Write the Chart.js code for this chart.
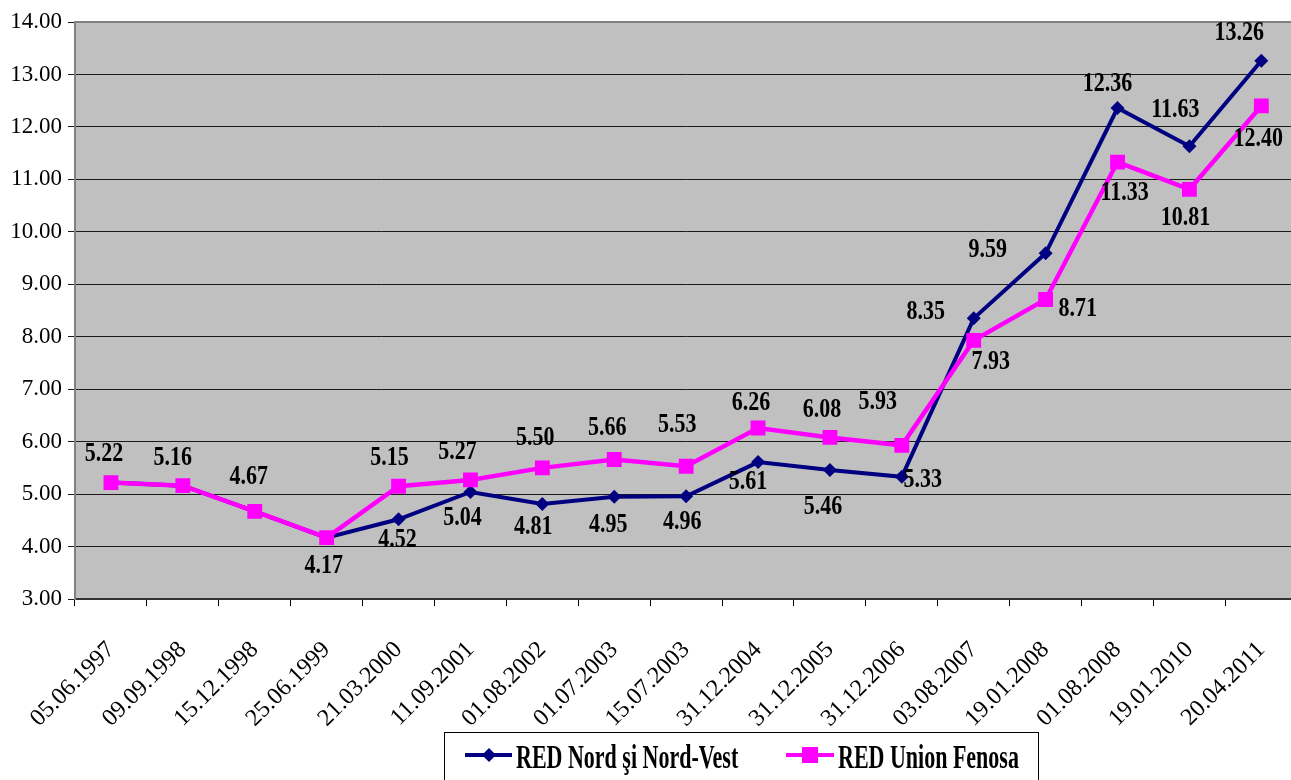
<!DOCTYPE html>
<html>
<head>
<meta charset="utf-8">
<title>RED tariffs</title>
<script src="https://cdn.jsdelivr.net/npm/chart.js@4.4.1/dist/chart.umd.min.js"></script>
<style>
  html, body { margin: 0; padding: 0; background: #fff; overflow: hidden; }
  #wrap { width: 1291px; height: 780px; overflow: hidden; }
</style>
</head>
<body>
<div id="wrap"><canvas id="lineChart" width="1312" height="780"></canvas></div>
<script>
// data
const dates = ['05.06.1997', '09.09.1998', '15.12.1998', '25.06.1999', '21.03.2000', '11.09.2001',
  '01.08.2002', '01.07.2003', '15.07.2003', '31.12.2004', '31.12.2005', '31.12.2006',
  '03.08.2007', '19.01.2008', '01.08.2008', '19.01.2010', '20.04.2011'];
const nordValues = [5.22, 5.16, 4.67, 4.17, 4.52, 5.04, 4.81, 4.95, 4.96, 5.61, 5.46, 5.33,
  8.35, 9.59, 12.36, 11.63, 13.26];
const fenosaValues = [5.22, 5.16, 4.67, 4.17, 5.15, 5.27, 5.50, 5.66, 5.53, 6.26, 6.08, 5.93,
  7.93, 8.71, 11.33, 10.81, 12.40];
const yMin = 3;
const yMax = 14;
const yStep = 1;
const seriesNames = ['RED Nord şi Nord-Vest', 'RED Union Fenosa'];

// where each value label sits relative to its point (null = no label)
const nordLabelShift = [[-7, -28], [-10, -28], [-6, -34], [-3, 29], [-1, 21], [-8, 26], [-9, 23],
  [-6, 28], [-4, 26], [-10, 20], [-7, 37], [21, 3], [-48, -6], [-58, -3], [-10, -24], [-14, -36], [-22, -28]];
const fenosaLabelShift = [null, null, null, null, [-9, -28], [-13, -28], [-7, -30], [-7, -31],
  [-9, -41], [-7, -25], [-8, -27], [-24, -43], [17, 22], [32, 10], [7, 31], [-4, 29], [-3, 33]];
const labelShifts = [nordLabelShift, fenosaLabelShift];

const NAVY = '#000080';
const PINK = '#ff00ff';
const SERIF = '"Liberation Serif", "Times New Roman", serif';

const plotFrame = {
  id: 'plotFrame',
  beforeDraw(chart) {
    const { ctx, chartArea: a } = chart;
    ctx.save();
    ctx.fillStyle = '#c0c0c0';
    ctx.fillRect(a.left, a.top, a.right - a.left, a.bottom - a.top);
    ctx.restore();
  },
  beforeDatasetsDraw(chart) {
    const { ctx, chartArea: a } = chart;
    ctx.save();
    ctx.strokeStyle = '#808080';
    ctx.lineWidth = 2;
    ctx.beginPath();
    ctx.moveTo(a.left, a.top);
    ctx.lineTo(a.right, a.top);
    ctx.stroke();
    ctx.restore();
  }
};

const valueLabels = {
  id: 'valueLabels',
  afterDatasetsDraw(chart) {
    const ctx = chart.ctx;
    ctx.save();
    ctx.font = 'bold 22px ' + SERIF;
    ctx.fillStyle = '#000';
    ctx.textAlign = 'center';
    ctx.textBaseline = 'middle';
    chart.data.datasets.forEach((ds, di) => {
      const meta = chart.getDatasetMeta(di);
      meta.data.forEach((pt, i) => {
        const shift = labelShifts[di][i];
        if (!shift) return;
        ctx.save();
        ctx.translate(pt.x + shift[0], pt.y + shift[1]);
        ctx.scale(1, 1.2);
        ctx.fillText(ds.data[i].toFixed(2), 0, 0);
        ctx.restore();
      });
    });
    ctx.restore();
  }
};

const boxLegend = {
  id: 'boxLegend',
  afterDraw(chart) {
    const ctx = chart.ctx;
    ctx.save();
    ctx.strokeStyle = '#000';
    ctx.lineWidth = 1;
    ctx.strokeRect(444.5, 732.5, 594, 80);

    const y = 755;
    // nord sample
    ctx.strokeStyle = NAVY;
    ctx.lineWidth = 4;
    ctx.beginPath(); ctx.moveTo(465, y); ctx.lineTo(512, y); ctx.stroke();
    ctx.fillStyle = NAVY;
    ctx.beginPath();
    ctx.moveTo(489, y - 7); ctx.lineTo(496, y); ctx.lineTo(489, y + 7); ctx.lineTo(482, y);
    ctx.closePath(); ctx.fill();
    // fenosa sample
    ctx.strokeStyle = PINK;
    ctx.beginPath(); ctx.moveTo(786, y); ctx.lineTo(834, y); ctx.stroke();
    ctx.fillStyle = PINK;
    ctx.fillRect(802, y - 8, 16, 16);

    ctx.fillStyle = '#000';
    ctx.font = 'bold 22px ' + SERIF;
    ctx.textBaseline = 'alphabetic';
    ctx.textAlign = 'left';
    [[516, seriesNames[0]], [838, seriesNames[1]]].forEach(([x, txt]) => {
      ctx.save();
      ctx.translate(x, 768);
      ctx.scale(1, 1.5);
      ctx.fillText(txt, 0, 0);
      ctx.restore();
    });
    ctx.restore();
  }
};

const lineCanvas = document.getElementById('lineChart');
if (lineCanvas) {
  const lineCtx = lineCanvas.getContext('2d');
  new Chart(lineCtx, {
    type: 'line',
    data: {
      labels: dates,
      datasets: [{
        label: seriesNames[0],
        data: nordValues,
        borderColor: NAVY,
        backgroundColor: NAVY,
        borderWidth: 4,
        pointStyle: 'rectRot',
        pointRadius: 7,
        pointBorderWidth: 0,
        tension: 0,
        order: 2
      }, {
        label: seriesNames[1],
        data: fenosaValues,
        borderColor: PINK,
        backgroundColor: PINK,
        borderWidth: 4.5,
        pointStyle: 'rect',
        pointRadius: 10.5,
        pointBorderWidth: 0,
        tension: 0,
        order: 1
      }]
    },
    options: {
      responsive: false,
      animation: false,
      layout: { padding: { top: 22, right: 0, left: 0, bottom: 0 } },
      plugins: {
        legend: { display: false },
        tooltip: { enabled: false }
      },
      scales: {
        x: {
          offset: true,
          afterFit: (scale) => { scale.height = 181; },
          grid: {
            offset: true,
            drawOnChartArea: false,
            drawTicks: true,
            tickLength: 7,
            color: '#000'
          },
          border: { display: true, color: '#333', width: 2 },
          ticks: {
            autoSkip: false,
            minRotation: 45,
            maxRotation: 45,
            padding: 30,
            color: '#000',
            font: { family: SERIF, size: 24 }
          }
        },
        y: {
          min: yMin,
          max: yMax,
          afterFit: (scale) => { scale.width = 75; },
          grid: { color: '#1a1a1a', lineWidth: 1, tickLength: 7 },
          border: { display: true, color: '#808080', width: 2 },
          ticks: {
            stepSize: yStep,
            padding: 6,
            color: '#000',
            font: { family: SERIF, size: 23 },
            callback: (v) => Number(v).toFixed(2)
          }
        }
      }
    },
    plugins: [plotFrame, valueLabels, boxLegend]
  });
}
</script>
</body>
</html>
